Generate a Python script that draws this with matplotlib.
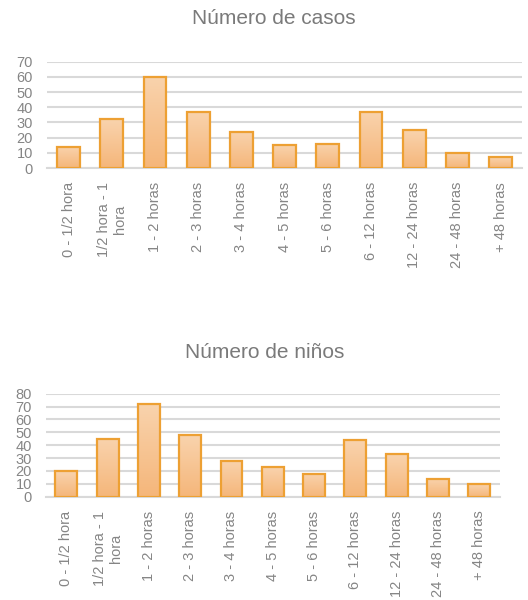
import numpy as np
import matplotlib
matplotlib.use('Agg')
import matplotlib.pyplot as plt
from matplotlib.colors import LinearSegmentedColormap

plt.rcParams['font.family'] = ['Liberation Sans', 'DejaVu Sans']

# data
categorias = ['0 - 1/2 hora', '1/2 hora - 1\nhora', '1 - 2 horas', '2 - 3 horas',
              '3 - 4 horas', '4 - 5 horas', '5 - 6 horas', '6 - 12 horas',
              '12 - 24 horas', '24 - 48 horas', '+ 48 horas']
casos = [14, 32, 60, 37, 24, 15, 16, 37, 25, 10, 7]
ninos = [20, 45, 72, 48, 28, 23, 18, 44, 33, 14, 10]

gris_texto = '#858585'
gris_grid = '#d9d9d9'
borde = '#eda033'
grad = LinearSegmentedColormap.from_list('g', ['#f5b67a', '#f9d3ad'])


def dibujar(ax, valores, ymax):
    x = np.arange(len(categorias))
    bars = ax.bar(x, valores, width=0.53, facecolor='none', edgecolor=borde,
                  linewidth=1.6, zorder=3)
    # gradient fill inside each bar
    g = np.linspace(0, 1, 100).reshape(-1, 1)
    for b in bars:
        x0, y0 = b.get_x(), b.get_y()
        im = ax.imshow(g, cmap=grad, origin='lower', aspect='auto',
                       extent=[x0, x0 + b.get_width(), y0, y0 + b.get_height()],
                       zorder=2)
        im.set_clip_path(b)
    ax.set_xlim(-0.5, len(categorias) - 0.5)
    ax.set_ylim(0, ymax)
    ax.set_yticks(np.arange(0, ymax + 1, 10))
    ax.yaxis.grid(True, color=gris_grid, linewidth=1.5, zorder=0)
    ax.set_axisbelow(True)
    for s in ['top', 'right', 'left']:
        ax.spines[s].set_visible(False)
    ax.spines['bottom'].set_color(gris_grid)
    ax.spines['bottom'].set_linewidth(1.5)
    ax.set_xticks(x)
    ax.set_xticklabels(categorias, rotation=90, ha='center', va='top',
                       multialignment='center')
    ax.tick_params(axis='both', length=0, colors=gris_texto, labelsize=10.5)
    ax.tick_params(axis='x', pad=10)
    ax.tick_params(axis='y', pad=10)


fig = plt.figure(figsize=(5.28, 6), dpi=100)

ax1 = fig.add_axes([0.089, 0.72, 0.90, 0.177])
dibujar(ax1, casos, 70)
fig.text(274 / 528, 0.96, 'Número de casos', ha='center', va='baseline',
         fontsize=15, color='#7a7a7a')

ax2 = fig.add_axes([0.0866, 0.172, 0.86, 0.172])
dibujar(ax2, ninos, 80)
fig.text(265 / 528, 0.403, 'Número de niños', ha='center', va='baseline',
         fontsize=15, color='#7a7a7a')

fig.savefig('out.png', dpi=100)
